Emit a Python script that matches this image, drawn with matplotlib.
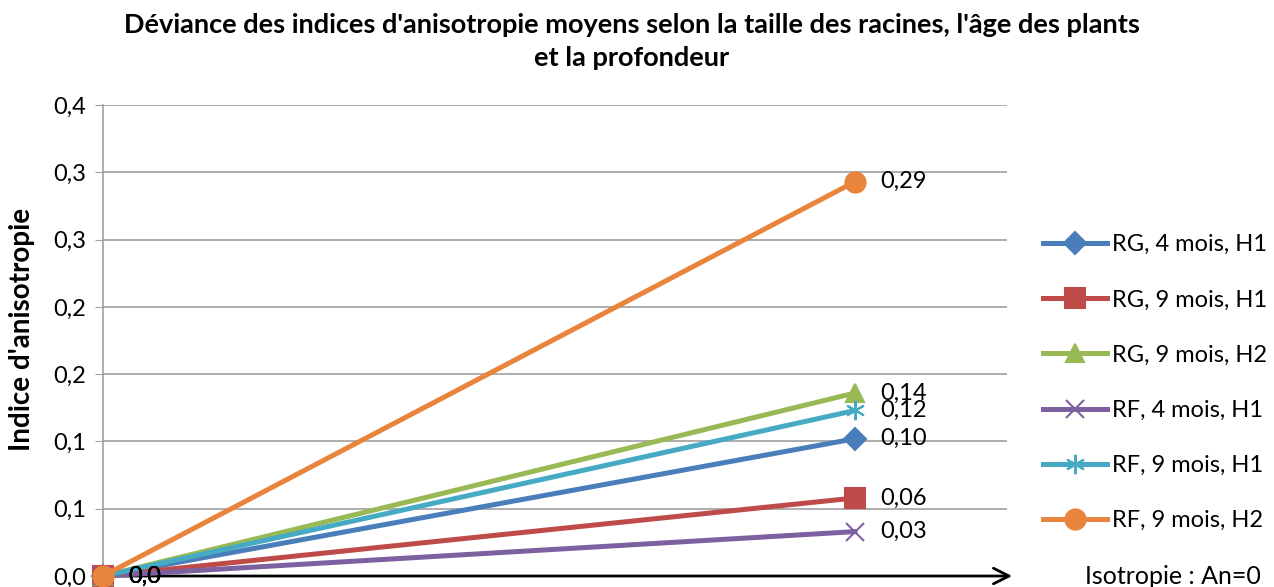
import matplotlib.pyplot as plt

plt.rcParams['font.family'] = ['Lato', 'DejaVu Sans']

# data
stages = [0, 1]
series = ["RG, 4 mois, H1", "RG, 9 mois, H1", "RG, 9 mois, H2",
          "RF, 4 mois, H1", "RF, 9 mois, H1", "RF, 9 mois, H2"]
rg4_h1 = [0.0, 0.102]
rg9_h1 = [0.0, 0.058]
rg9_h2 = [0.0, 0.136]
rf4_h1 = [0.0, 0.033]
rf9_h1 = [0.0, 0.123]
rf9_h2 = [0.0, 0.293]
y_ticks = [0.0, 0.05, 0.1, 0.15, 0.2, 0.25, 0.3, 0.35]
y_labels = ["0,0", "0,1", "0,1", "0,2", "0,2", "0,3", "0,3", "0,4"]

values = [rg4_h1, rg9_h1, rg9_h2, rf4_h1, rf9_h1, rf9_h2]
colors = ['#4A7EBB', '#BE4B48', '#98B954', '#7D60A0', '#46AAC5', '#E8843C']
markers = ['D', 's', '^', 'x', (6, 2, 0), 'o']
msizes = [11, 14, 13, 13, 14, 14.5]

fig = plt.figure(figsize=(12.74, 5.87), dpi=100)
ax = fig.add_axes([0.0808, 0.0187, 0.7095, 0.8024])

for vals, name, c, m, ms in zip(values, series, colors, markers, msizes):
    ax.plot(stages, vals, color=c, lw=3.6, marker=m, ms=ms, mew=1.5,
            label=name, clip_on=False, zorder=3)
    ax.annotate(f"{vals[0]:.1f}".replace('.', ','), (stages[0], vals[0]),
                xytext=(25, 0), textcoords='offset pixels', va='center',
                fontsize=17, annotation_clip=False, zorder=4)
    ax.annotate(f"{vals[1]:.2f}".replace('.', ','), (stages[1], vals[1]),
                xytext=(25, 0), textcoords='offset pixels', va='center',
                fontsize=17, zorder=4)

ax.set_xlim(0, 1.202)
ax.set_ylim(0, 0.35)
ax.set_yticks(y_ticks)
ax.set_yticklabels(y_labels, fontsize=17)
ax.set_xticks([])
ax.grid(axis='y', color='#A0A0A0', lw=1.2)
ax.tick_params(axis='y', length=6, color='#A0A0A0', pad=6)
for s in ['top', 'right', 'bottom']:
    ax.spines[s].set_visible(False)
ax.spines['left'].set_color('#A0A0A0')
ax.spines['left'].set_linewidth(1.2)

# isotropy arrow along the x axis
ax.annotate("", xy=(1.209, 0), xytext=(0, 0), annotation_clip=False,
            arrowprops=dict(arrowstyle='->', color='black', lw=2,
                            mutation_scale=28, shrinkA=0, shrinkB=0), zorder=2)
fig.text(1085 / 1274, 1 - 576 / 587, "Isotropie : An=0", fontsize=18,
         va='center', ha='left')

fig.text(0.496, 0.929,
         "Déviance des indices d'anisotropie moyens selon la taille des racines, l'âge des plants\net la profondeur",
         ha='center', va='center', fontsize=19.5, fontweight='bold', linespacing=1.45)
fig.text(22 / 1274, 0.438, "Indice d'anisotropie", rotation=90, ha='center',
         va='center', fontsize=20, fontweight='bold')

fig.legend(loc='center left', bbox_to_anchor=(0.819, 0.348), frameon=False,
           fontsize=17, handlelength=2.7, handletextpad=0.2,
           labelspacing=1.45, borderaxespad=0, borderpad=0)

fig.savefig('out.png', dpi=100)
